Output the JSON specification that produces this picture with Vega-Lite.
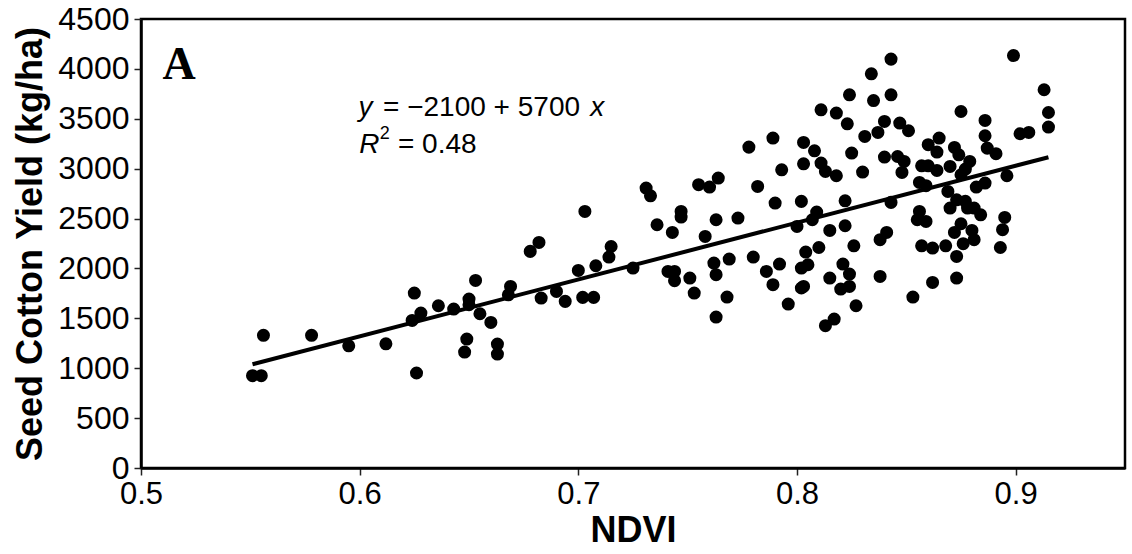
{
  "$schema": "https://vega.github.io/schema/vega-lite/v6.json",
  "width": 984,
  "height": 449,
  "autosize": {"type": "none"},
  "padding": {"left": 141, "top": 19, "right": 7, "bottom": 86},
  "background": "white",
  "config": {
    "font": "Liberation Sans",
    "view": {"stroke": "black", "strokeWidth": 2.5},
    "axis": {
      "grid": false,
      "labelFont": "Liberation Sans",
      "labelFontSize": 31,
      "labelColor": "black",
      "titleFont": "Liberation Sans",
      "titleFontSize": 36,
      "titleFontWeight": "bold",
      "titleColor": "black",
      "domainColor": "black",
      "domainWidth": 2.5,
      "tickColor": "#222",
      "tickWidth": 1.5,
      "tickSize": 7
    }
  },
  "datasets": {
    "pts": [
      {"ndvi":0.551,"yield":925},{"ndvi":0.555,"yield":925},{"ndvi":0.556,"yield":1330},{"ndvi":0.578,"yield":1330},
      {"ndvi":0.595,"yield":1225},{"ndvi":0.612,"yield":1245},{"ndvi":0.625,"yield":1753},{"ndvi":0.624,"yield":1479},
      {"ndvi":0.628,"yield":1553},{"ndvi":0.626,"yield":952},{"ndvi":0.636,"yield":1626},{"ndvi":0.643,"yield":1593},
      {"ndvi":0.650,"yield":1693},{"ndvi":0.653,"yield":1880},{"ndvi":0.650,"yield":1636},{"ndvi":0.655,"yield":1546},
      {"ndvi":0.660,"yield":1459},{"ndvi":0.649,"yield":1292},{"ndvi":0.648,"yield":1162},{"ndvi":0.663,"yield":1242},
      {"ndvi":0.663,"yield":1142},{"ndvi":0.669,"yield":1820},{"ndvi":0.668,"yield":1736},{"ndvi":0.678,"yield":2171},
      {"ndvi":0.682,"yield":2261},{"ndvi":0.703,"yield":2571},{"ndvi":0.683,"yield":1703},{"ndvi":0.690,"yield":1770},
      {"ndvi":0.694,"yield":1670},{"ndvi":0.702,"yield":1710},{"ndvi":0.707,"yield":1710},{"ndvi":0.700,"yield":1980},
      {"ndvi":0.708,"yield":2027},{"ndvi":0.714,"yield":2114},{"ndvi":0.715,"yield":2220},{"ndvi":0.725,"yield":2004},
      {"ndvi":0.731,"yield":2806},{"ndvi":0.733,"yield":2728},{"ndvi":0.736,"yield":2438},{"ndvi":0.743,"yield":2361},
      {"ndvi":0.747,"yield":2571},{"ndvi":0.747,"yield":2515},{"ndvi":0.741,"yield":1970},{"ndvi":0.744,"yield":1970},
      {"ndvi":0.744,"yield":1877},{"ndvi":0.751,"yield":1904},{"ndvi":0.753,"yield":1753},{"ndvi":0.755,"yield":2839},
      {"ndvi":0.760,"yield":2816},{"ndvi":0.764,"yield":2906},{"ndvi":0.758,"yield":2321},{"ndvi":0.763,"yield":2488},
      {"ndvi":0.773,"yield":2505},{"ndvi":0.782,"yield":2822},{"ndvi":0.762,"yield":2054},{"ndvi":0.763,"yield":1937},
      {"ndvi":0.769,"yield":2094},{"ndvi":0.780,"yield":2114},{"ndvi":0.768,"yield":1713},{"ndvi":0.763,"yield":1513},
      {"ndvi":0.786,"yield":1970},{"ndvi":0.843,"yield":4098},{"ndvi":0.834,"yield":3951},{"ndvi":0.824,"yield":3740},
      {"ndvi":0.843,"yield":3740},{"ndvi":0.835,"yield":3683},{"ndvi":0.811,"yield":3590},{"ndvi":0.818,"yield":3557},
      {"ndvi":0.823,"yield":3450},{"ndvi":0.840,"yield":3473},{"ndvi":0.837,"yield":3363},{"ndvi":0.831,"yield":3323},
      {"ndvi":0.847,"yield":3457},{"ndvi":0.851,"yield":3380},{"ndvi":0.789,"yield":3307},{"ndvi":0.778,"yield":3216},
      {"ndvi":0.803,"yield":3263},{"ndvi":0.808,"yield":3179},{"ndvi":0.825,"yield":3156},{"ndvi":0.803,"yield":3049},
      {"ndvi":0.811,"yield":3056},{"ndvi":0.813,"yield":2972},{"ndvi":0.818,"yield":2929},{"ndvi":0.830,"yield":2966},
      {"ndvi":0.840,"yield":3116},{"ndvi":0.846,"yield":3122},{"ndvi":0.849,"yield":3072},{"ndvi":0.848,"yield":2962},
      {"ndvi":0.860,"yield":3240},{"ndvi":0.857,"yield":3029},{"ndvi":0.860,"yield":3029},{"ndvi":0.793,"yield":2989},
      {"ndvi":0.790,"yield":2655},{"ndvi":0.802,"yield":2672},{"ndvi":0.822,"yield":2678},{"ndvi":0.843,"yield":2662},
      {"ndvi":0.856,"yield":2862},{"ndvi":0.859,"yield":2829},{"ndvi":0.809,"yield":2565},{"ndvi":0.807,"yield":2488},
      {"ndvi":0.800,"yield":2421},{"ndvi":0.815,"yield":2381},{"ndvi":0.822,"yield":2428},{"ndvi":0.838,"yield":2288},
      {"ndvi":0.841,"yield":2361},{"ndvi":0.856,"yield":2571},{"ndvi":0.855,"yield":2488},{"ndvi":0.859,"yield":2471},
      {"ndvi":0.857,"yield":2227},{"ndvi":0.862,"yield":2204},{"ndvi":0.792,"yield":2044},{"ndvi":0.789,"yield":1837},
      {"ndvi":0.796,"yield":1643},{"ndvi":0.810,"yield":2210},{"ndvi":0.804,"yield":2164},{"ndvi":0.805,"yield":2037},
      {"ndvi":0.802,"yield":2004},{"ndvi":0.803,"yield":1820},{"ndvi":0.802,"yield":1804},{"ndvi":0.815,"yield":1904},
      {"ndvi":0.821,"yield":2044},{"ndvi":0.824,"yield":1944},{"ndvi":0.824,"yield":1820},{"ndvi":0.820,"yield":1793},
      {"ndvi":0.826,"yield":2227},{"ndvi":0.827,"yield":1626},{"ndvi":0.838,"yield":1920},{"ndvi":0.853,"yield":1713},
      {"ndvi":0.813,"yield":1426},{"ndvi":0.817,"yield":1493},{"ndvi":0.862,"yield":1860},{"ndvi":0.899,"yield":4134},
      {"ndvi":0.913,"yield":3791},{"ndvi":0.915,"yield":3563},{"ndvi":0.915,"yield":3417},{"ndvi":0.902,"yield":3350},
      {"ndvi":0.906,"yield":3363},{"ndvi":0.875,"yield":3573},{"ndvi":0.886,"yield":3483},{"ndvi":0.886,"yield":3330},
      {"ndvi":0.887,"yield":3206},{"ndvi":0.891,"yield":3150},{"ndvi":0.865,"yield":3307},{"ndvi":0.864,"yield":3166},
      {"ndvi":0.872,"yield":3213},{"ndvi":0.874,"yield":3139},{"ndvi":0.864,"yield":2982},{"ndvi":0.870,"yield":3022},
      {"ndvi":0.879,"yield":3072},{"ndvi":0.877,"yield":2996},{"ndvi":0.875,"yield":2939},{"ndvi":0.896,"yield":2929},
      {"ndvi":0.886,"yield":2856},{"ndvi":0.882,"yield":2816},{"ndvi":0.869,"yield":2772},{"ndvi":0.873,"yield":2688},
      {"ndvi":0.870,"yield":2605},{"ndvi":0.877,"yield":2672},{"ndvi":0.878,"yield":2605},{"ndvi":0.881,"yield":2605},
      {"ndvi":0.884,"yield":2538},{"ndvi":0.895,"yield":2511},{"ndvi":0.894,"yield":2388},{"ndvi":0.893,"yield":2210},
      {"ndvi":0.875,"yield":2448},{"ndvi":0.872,"yield":2361},{"ndvi":0.880,"yield":2381},{"ndvi":0.881,"yield":2288},
      {"ndvi":0.876,"yield":2248},{"ndvi":0.873,"yield":2120},{"ndvi":0.868,"yield":2227},{"ndvi":0.873,"yield":1904}
    ],
    "fit": [{"ndvi":0.551,"yield":1040},{"ndvi":0.915,"yield":3115}],
    "panel": [{"ndvi":0.5098,"yield":3900,"label":"A"}],
    "eqItalic": [
      {"ndvi":0.5995,"yield":3523,"label":"y"},
      {"ndvi":0.7055,"yield":3523,"label":"x"},
      {"ndvi":0.5998,"yield":3154,"label":"R"}
    ],
    "eqPlain": [
      {"ndvi":0.6107,"yield":3523,"label":"= −2100 + 5700"},
      {"ndvi":0.6175,"yield":3154,"label":"= 0.48"}
    ],
    "eqSup": [{"ndvi":0.6092,"yield":3300,"label":"2"}]
  },
  "encoding": {
    "x": {
      "field": "ndvi", "type": "quantitative",
      "scale": {"domain": [0.5, 0.95], "nice": false, "zero": false},
      "axis": {"title": "NDVI", "values": [0.5, 0.6, 0.7, 0.8, 0.9], "format": ".1f", "labelPadding": 4, "titlePadding": 4, "labelFlush": false}
    },
    "y": {
      "field": "yield", "type": "quantitative",
      "scale": {"domain": [0, 4500], "nice": false},
      "axis": {"title": "Seed Cotton Yield (kg/ha)", "format": "d", "labelFontSize": 32, "values": [0,500,1000,1500,2000,2500,3000,3500,4000,4500], "labelPadding": 5, "titlePadding": 8, "labelFlush": false}
    }
  },
  "layer": [
    {"data": {"name": "pts"}, "mark": {"type": "point", "filled": true, "shape": "circle", "size": 170, "color": "black", "opacity": 1, "strokeWidth": 0}},
    {"data": {"name": "fit"}, "mark": {"type": "line", "color": "black", "strokeWidth": 4}},
    {"data": {"name": "panel"}, "mark": {"type": "text", "font": "Liberation Serif", "fontWeight": "bold", "fontSize": 46, "align": "left", "baseline": "alphabetic", "color": "black"}, "encoding": {"text": {"field": "label"}}},
    {"data": {"name": "eqItalic"}, "mark": {"type": "text", "font": "Liberation Sans", "fontStyle": "italic", "fontSize": 28, "align": "left", "baseline": "alphabetic", "color": "black"}, "encoding": {"text": {"field": "label"}}},
    {"data": {"name": "eqPlain"}, "mark": {"type": "text", "font": "Liberation Sans", "fontSize": 28, "align": "left", "baseline": "alphabetic", "color": "black"}, "encoding": {"text": {"field": "label"}}},
    {"data": {"name": "eqSup"}, "mark": {"type": "text", "font": "Liberation Sans", "fontSize": 18, "align": "left", "baseline": "alphabetic", "color": "black"}, "encoding": {"text": {"field": "label"}}}
  ]
}
